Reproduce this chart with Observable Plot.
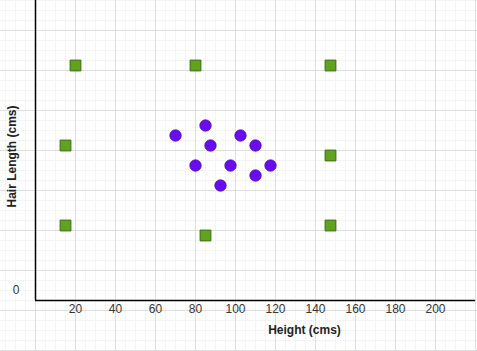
<!DOCTYPE html>
<html>
<head>
<meta charset="utf-8">
<script src="https://cdn.jsdelivr.net/npm/d3@7"></script>
<script src="https://cdn.jsdelivr.net/npm/@observablehq/plot@0.6"></script>
<style>
  html, body { margin: 0; padding: 0; background: #fff; }
  #chart {
    width: 477px; height: 351px; overflow: hidden;
    background-image:
      linear-gradient(to right, #dedede 0 1px, transparent 1px),
      linear-gradient(to bottom, #dedede 0 1px, transparent 1px),
      linear-gradient(to right, #f4f4f4 0 1px, transparent 1px),
      linear-gradient(to bottom, #f4f4f4 0 1px, transparent 1px);
    background-size: 40px 40px, 40px 40px, 10px 10px, 10px 10px;
    background-position: 35px 0, 0 30px, 5px 0, 0 0;
  }
  svg { display: block; }
</style>
</head>
<body>
<div id="chart"></div>
<script>
// Data
const xTicks = [20, 40, 60, 80, 100, 120, 140, 160, 180, 200];
const yTicks = [0];
const xLabel = "Height (cms)";
const yLabel = "Hair Length (cms)";

// green squares
const squareHeight = [20, 80, 147.5, 15, 147.5, 15, 85, 147.5];
const squareHair   = [117.5, 117.5, 117.5, 77.5, 72.5, 37.5, 32.5, 37.5];

// purple circles
const circleHeight = [70, 85, 87.5, 102.5, 110, 80, 97.5, 117.5, 110, 92.5];
const circleHair   = [82.5, 87.5, 77.5, 82.5, 77.5, 67.5, 67.5, 67.5, 62.5, 57.5];

const squares = squareHeight.map((h, i) => ({height: h, hair: squareHair[i]}));
const circles = circleHeight.map((h, i) => ({height: h, hair: circleHair[i]}));

const chart = Plot.plot({
  width: 477,
  height: 351,
  marginLeft: 35,
  marginRight: 2,
  marginTop: 0,
  marginBottom: 51,
  style: {background: "transparent", fontFamily: "'Liberation Sans', Arial, sans-serif", fontSize: "12px", color: "#333", overflow: "visible"},
  x: {domain: [0, 220]},
  y: {domain: [0, 150]},
  marks: [
    Plot.axisX({ticks: xTicks, tickSize: 0, tickPadding: 4, label: null, fill: "#333"}),
    Plot.axisY({ticks: yTicks, tickSize: 0, tickPadding: 16, dy: -10, label: null, fill: "#333"}),
    Plot.ruleX([0], {stroke: "#000", strokeWidth: 1.5}),
    Plot.ruleY([0], {stroke: "#000", strokeWidth: 1.5}),
    Plot.dot(squares, {x: "height", y: "hair", symbol: "square", r: 6.1, fill: "#5fa31e", stroke: "#3b6a12", strokeWidth: 1}),
    Plot.dot(circles, {x: "height", y: "hair", symbol: "circle", r: 5.7, fill: "#6a0cf0", stroke: "#4a07b0", strokeWidth: 0.8}),
    Plot.text([xLabel], {frameAnchor: "bottom", dx: 49, dy: 33, fontWeight: "bold", fill: "#222", fontSize: 12}),
    Plot.text([yLabel], {frameAnchor: "left", textAnchor: "middle", rotate: -90, dx: -23, dy: 6, fontWeight: "bold", fill: "#222", fontSize: 12})
  ]
});
document.getElementById("chart").appendChild(chart);
</script>
</body>
</html>
